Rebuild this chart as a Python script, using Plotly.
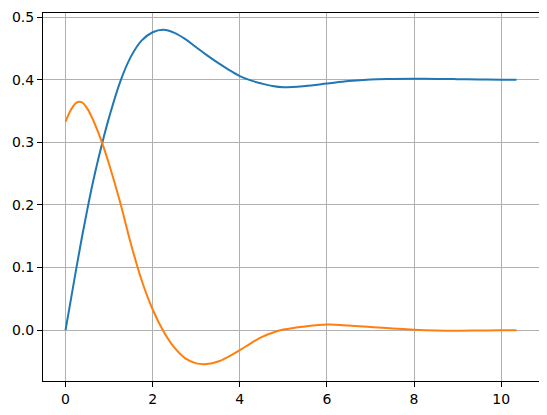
# two damped responses, matplotlib-style look

import plotly.graph_objects as go

# values
t = [0, 0.125, 0.25, 0.375, 0.5, 0.625, 0.75, 0.875, 1.0, 1.25, 1.5, 1.75,
     2.0, 2.25, 2.5, 2.75, 3.0, 3.25, 3.5, 3.75, 4.0, 4.25, 4.5, 4.75, 5.0,
     5.5, 6.0, 6.5, 7.0, 7.5, 8.0, 8.5, 9.0, 9.5, 10.0, 10.35]

blue = [0.0, 0.050, 0.100, 0.148, 0.193, 0.235, 0.273, 0.308, 0.340, 0.396,
        0.437, 0.463, 0.476, 0.480, 0.475, 0.465, 0.452, 0.439, 0.427, 0.416,
        0.406, 0.399, 0.394, 0.390, 0.388, 0.390, 0.394, 0.398, 0.4005,
        0.4013, 0.4016, 0.4014, 0.401, 0.4005, 0.4002, 0.400]

orange = [0.333, 0.352, 0.3635, 0.364, 0.354, 0.337, 0.316, 0.292, 0.265,
          0.205, 0.138, 0.079, 0.033, -0.002, -0.028, -0.045, -0.053, -0.054,
          -0.050, -0.042, -0.032, -0.021, -0.011, -0.004, 0.001, 0.006, 0.009,
          0.0075, 0.005, 0.0025, 0.0007, -0.0004, -0.0008, -0.0006, -0.0003,
          -0.0001]

x_ticks = [0, 2, 4, 6, 8, 10]
y_ticks = [0.0, 0.1, 0.2, 0.3, 0.4, 0.5]

fig = go.Figure()
fig.add_trace(go.Scatter(x=t, y=blue, mode="lines",
                         line=dict(color="#1f77b4", width=2, shape="spline")))
fig.add_trace(go.Scatter(x=t, y=orange, mode="lines",
                         line=dict(color="#ff7f0e", width=2, shape="spline")))

axis_style = dict(
    showline=True, mirror=True, linecolor="black", linewidth=1,
    ticks="outside", ticklen=5, tickwidth=1, tickcolor="black",
    showgrid=True, gridcolor="#b0b0b0", gridwidth=1,
    zeroline=False, automargin=False,
    tickfont=dict(family="DejaVu Sans", size=14, color="black"),
)

fig.update_xaxes(range=[-0.5175, 10.8675], tickmode="array",
                 tickvals=x_ticks, **axis_style)
fig.update_yaxes(range=[-0.0812, 0.5067], tickmode="array",
                 tickvals=y_ticks, tickformat=".1f", **axis_style)

# page body adds an 8px offset, so the figure is sized to sit inside it
fig.update_layout(
    width=539, height=407,
    margin=dict(l=35, r=8, t=5, b=34),
    plot_bgcolor="white", paper_bgcolor="white",
    showlegend=False,
)

fig.write_html("out.html")
